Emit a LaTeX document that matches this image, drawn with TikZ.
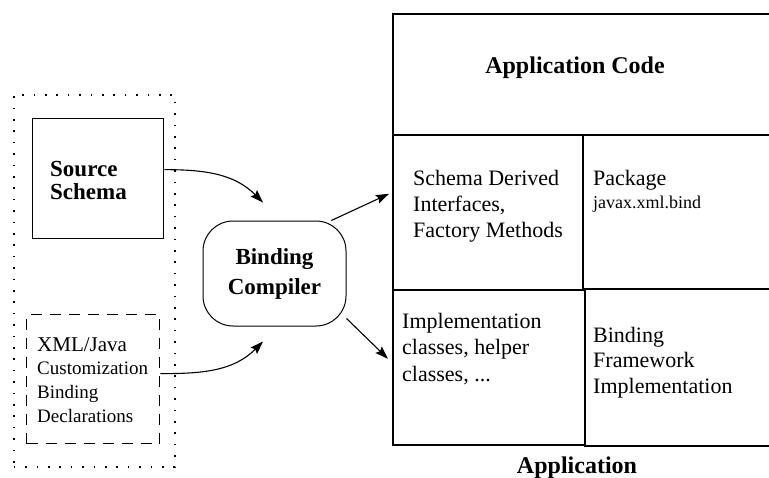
\documentclass[tikz,border=0pt]{standalone}
\usepackage{fontspec}
\setmainfont{Liberation Serif}
\usetikzlibrary{arrows.meta}

\tikzset{
  cell/.style={draw, line width=1.6pt, anchor=north west, inner sep=0pt},
  celltext/.style={anchor=north west, inner sep=0pt, align=left, font=\fontsize{22}{26}\selectfont},
  heading/.style={anchor=base, inner sep=0pt, font=\bfseries\fontsize{24}{28}\selectfont},
  flow/.style={-{Stealth[length=13pt,width=9pt,inset=2pt]}, line width=1.1pt},
}

\begin{document}
\begin{tikzpicture}[x=1pt,y=-1pt]
\useasboundingbox (0,0) rectangle (769,477);

\node[draw, line width=1.6pt, dash pattern=on 1.6pt off 9.8pt, anchor=north west, minimum width=161pt, minimum height=372pt] (input) at (13,94) {};
\node[draw, line width=1.3pt, anchor=north west, minimum width=131pt, minimum height=120pt] (source) at (32,118) {};
\node[celltext, font=\bfseries\fontsize{23}{23}\selectfont] (sourcetext) at (50,161) {Source\\Schema};
\node[draw, line width=1.3pt, dash pattern=on 11pt off 8pt, anchor=north west, minimum width=133pt, minimum height=129pt] (custom) at (26,314) {};
\node[celltext, font=\fontsize{19}{23.7}\selectfont] (customtext) at (37,337) {{\fontsize{21}{24}\selectfont XML/Java}\\Customization\\Binding\\Declarations};

\node[draw, line width=1pt, rounded corners=30pt, minimum width=143pt, minimum height=105pt, align=center, font=\bfseries\fontsize{23}{30}\selectfont] (compiler) at (274.5,273.5) {Binding\\Compiler};

\node[cell, minimum width=388pt, minimum height=121pt] (code) at (392,13) {};
\node[cell, minimum width=190pt, minimum height=155pt] (derived) at (392,134) {};
\node[cell, minimum width=198pt, minimum height=154pt] (package) at (582,134) {};
\node[cell, minimum width=192pt, minimum height=155pt] (impl) at (392,289) {};
\node[cell, minimum width=196pt, minimum height=157pt] (framework) at (584,288) {};

\node[heading] (codetext) at (575,73) {Application Code};
\node[celltext] (derivedtext) at (413,170) {Schema Derived\\Interfaces,\\Factory Methods};
\node[celltext] (packagetext) at (593,170) {Package\\[-3pt]{\fontsize{18}{23}\selectfont javax.xml.bind}};
\node[celltext, font=\fontsize{22}{26.5}\selectfont] (impltext) at (402,313) {Implementation\\classes, helper\\classes, ...};
\node[celltext, font=\fontsize{22}{25.5}\selectfont] (frameworktext) at (593,327) {Binding\\Framework\\Implementation};
\node[heading] (apptext) at (577,473) {Application};

\draw[flow] ([yshift=9pt]source.east) to [out = 0, in = 135] ([xshift=-11.5pt,yshift=18pt]compiler.north);
\draw[flow] ([yshift=5.5pt]custom.east) to [out = 0, in = -135] ([xshift=-11.5pt,yshift=-15pt]compiler.south);
\draw[flow] (compiler.43) -- ([xshift=-3pt,yshift=18.5pt]derived.west);
\draw[flow] (compiler.-32) -- ([xshift=-4pt,yshift=8.5pt]impl.west);

\end{tikzpicture}
\end{document}
